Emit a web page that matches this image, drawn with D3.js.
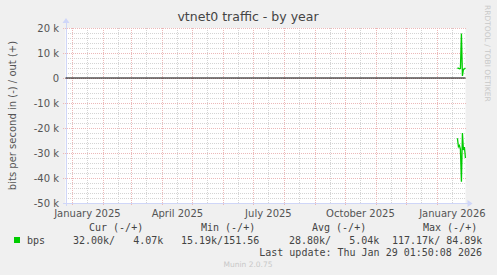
<!DOCTYPE html>
<html>
<head>
<meta charset="utf-8">
<script src="https://cdn.jsdelivr.net/npm/d3@7"></script>
<style>
  body { margin: 0; background: #f0f0f0; }
  text { font-family: 'DejaVu Sans', sans-serif; }
  .mono { font-family: 'DejaVu Sans Mono', monospace; white-space: pre; }
</style>
</head>
<body>
<div id="chart"></div>
<script>
// daily averages for the last days of the period (bits per second)
const dates = ['2026-01-21', '2026-01-22', '2026-01-23', '2026-01-24', '2026-01-25',
  '2026-01-26', '2026-01-27', '2026-01-28', '2026-01-29'];
const outValues = [3900, 3900, 3700, 3800, 17800, 800, 3500, 3600, 4070];
const inValues = [24100, 27500, 27000, 28500, 41500, 22000, 28800, 27600, 32000];

const yTicks = [20000, 10000, 0, -10000, -20000, -30000, -40000, -50000];
const yTickLabels = ['20 k', '10 k', '0', '-10 k', '-20 k', '-30 k', '-40 k', '-50 k'];
const monthLabels = ['January 2025', 'April 2025', 'July 2025', 'October 2025', 'January 2026'];
const monthLabelDates = ['2025-01-16', '2025-04-16', '2025-07-16', '2025-10-16', '2026-01-16'];

const legendHeaders = ['Cur (-/+)', 'Min (-/+)', 'Avg (-/+)', 'Max (-/+)'];
const legendValues = ['32.00k/   4.07k', '15.19k/151.56', '28.80k/   5.04k', '117.17k/ 84.89k'];

const width = 497;
const height = 275;
const plot = { left: 65.5, right: 465.5, top: 28, bottom: 203 };

const svg = d3.select('#chart').append('svg')
  .attr('width', width)
  .attr('height', height);

svg.append('rect')
  .attr('width', width)
  .attr('height', height)
  .attr('fill', '#f0f0f0');

const parse = d3.utcParse('%Y-%m-%d');
const end = new Date(Date.UTC(2026, 0, 29, 1, 50, 8));
const start = new Date(end.getTime() - 400 * 86400000);

const x = d3.scaleUtc()
  .domain([start, end])
  .range([plot.left, plot.right]);

const y = d3.scaleLinear()
  .domain([-50000, 20000])
  .range([plot.bottom, plot.top]);

// canvas
svg.append('rect')
  .attr('x', plot.left)
  .attr('y', plot.top)
  .attr('width', plot.right - plot.left)
  .attr('height', plot.bottom - plot.top)
  .attr('fill', '#ffffff');

const grid = svg.append('g').attr('shape-rendering', 'crispEdges');

// minor grid
const minorY = d3.range(-50000, 20001, 2000).filter((v) => v % 10000 !== 0);
grid.selectAll('.hminor')
  .data(minorY)
  .enter().append('line')
  .attr('x1', plot.left)
  .attr('x2', plot.right)
  .attr('y1', (d) => Math.round(y(d)) + 0.5)
  .attr('y2', (d) => Math.round(y(d)) + 0.5)
  .attr('stroke', '#d4d4d4')
  .attr('stroke-dasharray', '1,1');

const midMonths = d3.utcMonths(start, end).map((d) => new Date(d.getTime() + 15 * 86400000))
  .filter((d) => d < end);
grid.selectAll('.vminor')
  .data(midMonths)
  .enter().append('line')
  .attr('x1', (d) => Math.round(x(d)) + 0.5)
  .attr('x2', (d) => Math.round(x(d)) + 0.5)
  .attr('y1', plot.top)
  .attr('y2', plot.bottom)
  .attr('stroke', '#d4d4d4')
  .attr('stroke-dasharray', '1,1');

// major grid
grid.selectAll('.hmajor')
  .data(yTicks)
  .enter().append('line')
  .attr('x1', plot.left - 3)
  .attr('x2', plot.right)
  .attr('y1', (d) => Math.round(y(d)) + 0.5)
  .attr('y2', (d) => Math.round(y(d)) + 0.5)
  .attr('stroke', '#ecb8b8')
  .attr('stroke-dasharray', '1,1');

const months = d3.utcMonths(start, end);
grid.selectAll('.vmajor')
  .data(months)
  .enter().append('line')
  .attr('x1', (d) => Math.round(x(d)) + 0.5)
  .attr('x2', (d) => Math.round(x(d)) + 0.5)
  .attr('y1', plot.top)
  .attr('y2', plot.bottom + 3)
  .attr('stroke', '#ecb8b8')
  .attr('stroke-dasharray', '1,1');

// axes
const axisColor = '#cfd6f8';
grid.append('line')
  .attr('x1', plot.left - 3).attr('x2', plot.right + 2)
  .attr('y1', plot.bottom + 0.5).attr('y2', plot.bottom + 0.5)
  .attr('stroke', axisColor);
grid.append('line')
  .attr('x1', plot.left + 0.5).attr('x2', plot.left + 0.5)
  .attr('y1', plot.bottom + 3).attr('y2', plot.top - 5)
  .attr('stroke', axisColor);
svg.append('path')
  .attr('d', `M${plot.right + 2},${plot.bottom - 3}L${plot.right + 7},${plot.bottom + 0.5}L${plot.right + 2},${plot.bottom + 4}Z`)
  .attr('fill', axisColor);
svg.append('path')
  .attr('d', `M${plot.left - 3},${plot.top - 5}L${plot.left + 0.5},${plot.top - 10}L${plot.left + 4},${plot.top - 5}Z`)
  .attr('fill', axisColor);

// zero line
svg.append('line')
  .attr('x1', plot.left)
  .attr('x2', plot.right)
  .attr('y1', y(0))
  .attr('y2', y(0))
  .attr('stroke', '#000')
  .attr('stroke-width', 1.1);

// series
const line = d3.line()
  .x((d) => x(d.date))
  .y((d) => y(d.value));

const outData = dates.map((d, i) => ({ date: parse(d), value: outValues[i] }));
const inData = dates.map((d, i) => ({ date: parse(d), value: -inValues[i] }));

[outData, inData].forEach((series) => {
  svg.append('path')
    .datum(series)
    .attr('d', line)
    .attr('fill', 'none')
    .attr('stroke', '#00cc00')
    .attr('stroke-width', 1.3);
});

// y tick labels
svg.selectAll('.ylabel')
  .data(yTicks)
  .enter().append('text')
  .attr('x', 59)
  .attr('y', (d) => y(d) + 3.5)
  .attr('text-anchor', 'end')
  .attr('font-size', 10)
  .attr('fill', '#555')
  .text((d, i) => yTickLabels[i]);

// x labels
svg.selectAll('.xlabel')
  .data(monthLabelDates)
  .enter().append('text')
  .attr('x', (d) => x(parse(d)))
  .attr('y', 216.5)
  .attr('text-anchor', 'middle')
  .attr('font-size', 10)
  .attr('fill', '#555')
  .text((d, i) => monthLabels[i]);

// title
svg.append('text')
  .attr('x', 248)
  .attr('y', 21)
  .attr('text-anchor', 'middle')
  .attr('font-size', 12.5)
  .attr('fill', '#444')
  .text('vtnet0 traffic - by year');

// vertical label
svg.append('text')
  .attr('transform', `translate(16, ${(plot.top + plot.bottom) / 2}) rotate(-90)`)
  .attr('text-anchor', 'middle')
  .attr('font-size', 10)
  .attr('fill', '#555')
  .text('bits per second in (-) / out (+)');

svg.append('text')
  .attr('transform', 'translate(485, 5) rotate(90)')
  .attr('text-anchor', 'start')
  .attr('font-size', 7.5)
  .attr('fill', '#c8c8c8')
  .text('RRDTOOL / TOBI OETIKER');

// legend
const headerX = [89, 201, 312, 423];
svg.selectAll('.lhead')
  .data(legendHeaders)
  .enter().append('text')
  .attr('class', 'mono')
  .attr('x', (d, i) => headerX[i])
  .attr('y', 231)
  .attr('font-size', 10)
  .attr('fill', '#444')
  .text((d) => d);

svg.append('rect')
  .attr('x', 14)
  .attr('y', 237)
  .attr('width', 6)
  .attr('height', 6)
  .attr('fill', '#00cc00');

svg.append('text')
  .attr('class', 'mono')
  .attr('x', 27)
  .attr('y', 243.5)
  .attr('font-size', 10)
  .attr('fill', '#444')
  .text('bps');

const valueX = [73, 181, 289, 392];
svg.selectAll('.lval')
  .data(legendValues)
  .enter().append('text')
  .attr('class', 'mono')
  .attr('x', (d, i) => valueX[i])
  .attr('y', 243.5)
  .attr('font-size', 10)
  .attr('fill', '#444')
  .text((d) => d);

svg.append('text')
  .attr('class', 'mono')
  .attr('x', 482)
  .attr('y', 255.5)
  .attr('text-anchor', 'end')
  .attr('font-size', 10)
  .attr('fill', '#444')
  .text('Last update: Thu Jan 29 01:50:08 2026');

svg.append('text')
  .attr('x', 248)
  .attr('y', 267)
  .attr('text-anchor', 'middle')
  .attr('font-size', 7.5)
  .attr('fill', '#c8c8c8')
  .text('Munin 2.0.75');
</script>
</body>
</html>
